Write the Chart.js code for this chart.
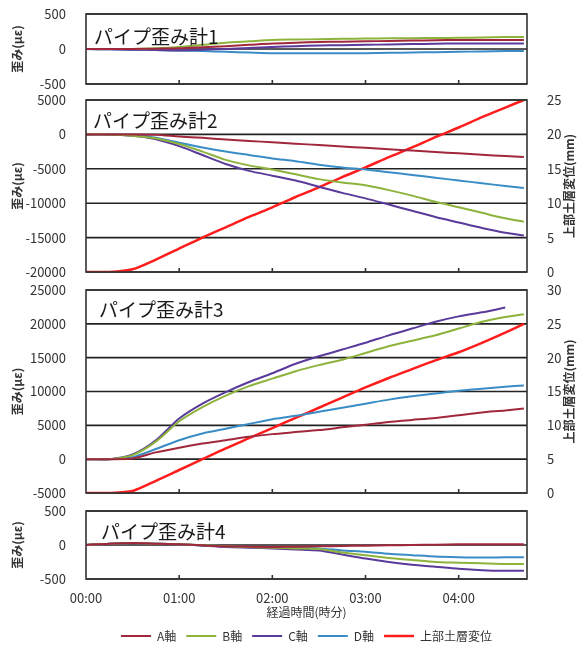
<!DOCTYPE html>
<html>
<head>
<meta charset="utf-8">
<script src="https://cdn.jsdelivr.net/npm/chart.js@4.4.0/dist/chart.umd.min.js"></script>
<style>
  body { margin: 0; background: #fff; overflow: hidden; }
  #wrap { position: relative; width: 588px; height: 649px; overflow: hidden; }
  canvas { position: absolute; left: 0; }
</style>
</head>
<body>
<div id="wrap">
  <canvas id="p1" width="588" height="110" style="top:-6px"></canvas>
  <canvas id="p2" width="588" height="212" style="top:80px"></canvas>
  <canvas id="p3" width="588" height="243" style="top:270px"></canvas>
  <canvas id="p4" width="588" height="161" style="top:491px"></canvas>
</div>
<script>
// elapsed minutes
const times = [0, 15, 30, 45, 60, 75, 90, 105, 120, 135, 150, 165, 180, 195, 210, 225, 240, 255, 270, 282];
const hourTicks = [0, 60, 120, 180, 240];

const seriesNames = ['A軸', 'B軸', 'C軸', 'D軸', '上部土層変位'];
const colors = ['#a1283c', '#8db33c', '#5a3a9a', '#3a8cc6', '#ff1c1c'];

// パイプ歪み計1
const p1A = [0, 0, 0, 5, 10, 25, 40, 60, 80, 90, 100, 105, 110, 115, 120, 125, 130, 130, 130, 130];
const p1B = [0, 0, 0, 10, 30, 60, 90, 110, 130, 135, 140, 145, 150, 152, 155, 158, 160, 165, 170, 170];
const p1C = [0, -5, -10, -15, -20, -10, 0, 15, 30, 40, 50, 55, 60, 65, 70, 75, 80, 80, 80, 80];
const p1D = [0, -5, -10, -15, -20, -30, -40, -50, -60, -60, -60, -60, -60, -55, -50, -45, -40, -35, -30, -30];

// パイプ歪み計2
const p2A = [0, 0, 0, -50, -300, -500, -750, -950, -1150, -1350, -1550, -1750, -1950, -2150, -2350, -2550, -2750, -2950, -3150, -3300];
const p2B = [0, 0, -200, -600, -1400, -2500, -3700, -4500, -5100, -5800, -6500, -7000, -7400, -8100, -8900, -9800, -10600, -11400, -12200, -12700];
const p2C = [0, 0, -200, -700, -1700, -3000, -4300, -5300, -6000, -6700, -7600, -8500, -9300, -10200, -11100, -12000, -12800, -13600, -14300, -14700];
const p2D = [0, 0, -100, -500, -1200, -1900, -2500, -3000, -3500, -3900, -4400, -4800, -5100, -5500, -5900, -6300, -6700, -7100, -7500, -7800];
const p2Disp = [0, 0, 0.4, 1.8, 3.4, 5.0, 6.5, 8.0, 9.4, 10.9, 12.3, 13.8, 15.2, 16.7, 18.1, 19.6, 21.0, 22.5, 23.9, 25.0];

// パイプ歪み計3
const p3A = [0, 0, 100, 1000, 1700, 2300, 2800, 3300, 3700, 4000, 4300, 4700, 5100, 5500, 5800, 6100, 6500, 6900, 7200, 7500];
const p3B = [0, 0, 600, 2600, 5600, 7700, 9400, 10800, 11900, 13000, 13900, 14700, 15700, 16700, 17500, 18300, 19300, 20300, 21000, 21400];
const p3C = [0, 0, 700, 2800, 6000, 8200, 9900, 11400, 12700, 14100, 15200, 16200, 17200, 18300, 19300, 20300, 21100, 21700, 22400, null];
const p3D = [0, 0, 300, 1500, 2800, 3800, 4500, 5200, 5900, 6400, 7000, 7600, 8200, 8800, 9300, 9700, 10100, 10400, 10700, 10900];
const p3Disp = [0, 0, 0.3, 1.8, 3.4, 5.0, 6.6, 8.1, 9.6, 11.1, 12.6, 14.1, 15.6, 17.0, 18.3, 19.6, 20.8, 22.2, 23.7, 25.0];

// パイプ歪み計4
const p4A = [0, 20, 30, 20, 10, -5, -20, -25, -30, -25, -20, -15, -10, -5, 0, 5, 10, 10, 10, 10];
const p4B = [0, 20, 30, 20, 10, -5, -20, -30, -40, -50, -60, -110, -150, -190, -220, -250, -260, -270, -280, -280];
const p4C = [0, 20, 30, 20, 10, -10, -30, -40, -50, -65, -80, -140, -200, -250, -290, -320, -350, -370, -380, -380];
const p4D = [0, 20, 30, 20, 10, -5, -20, -30, -40, -45, -50, -80, -100, -130, -150, -170, -180, -185, -180, -180];

Chart.defaults.font.family = '"Noto Sans CJK JP", "DejaVu Sans", sans-serif';
Chart.defaults.font.size = 11;
Chart.defaults.color = '#333';

const pts = vals => vals.map((v, i) => ({ x: times[i], y: v }));
const hhmm = v => String(Math.floor(v / 60)).padStart(2, '0') + ':' + String(v % 60).padStart(2, '0');

function lineSet(i, vals, axis) {
  return {
    label: seriesNames[i],
    data: pts(vals),
    borderColor: colors[i],
    backgroundColor: colors[i],
    borderWidth: i === 4 ? 2.5 : 2,
    pointRadius: 0,
    tension: 0.25,
    yAxisID: axis || 'y'
  };
}

// box around the plot, grid lines, small hour ticks, panel name and right axis title
const framePlugin = {
  id: 'frame',
  beforeDatasetsDraw(chart) {
    const { ctx, chartArea: a } = chart;
    const ys = chart.scales.y;
    ctx.save();
    ctx.strokeStyle = '#222';
    ctx.lineWidth = 1.6;
    ys.ticks.forEach(t => {
      const py = ys.getPixelForValue(t.value);
      ctx.beginPath();
      ctx.moveTo(a.left, py);
      ctx.lineTo(a.right, py);
      ctx.stroke();
    });
    ctx.restore();
  },
  afterDraw(chart, args, opts) {
    const { ctx, chartArea: a } = chart;
    const xs = chart.scales.x;
    ctx.save();
    ctx.strokeStyle = '#333';
    ctx.lineWidth = 1.6;
    ctx.strokeRect(a.left, a.top, a.right - a.left, a.bottom - a.top);
    hourTicks.slice(1).forEach(t => {
      const px = xs.getPixelForValue(t);
      ctx.beginPath();
      ctx.moveTo(px, a.bottom);
      ctx.lineTo(px, a.bottom - 4);
      ctx.stroke();
    });
    ctx.fillStyle = '#1a1a1a';
    ctx.font = '19px "Noto Sans CJK JP", sans-serif';
    ctx.textBaseline = 'middle';
    ctx.fillText(opts.name, a.left + opts.dx, a.top + opts.dy);
    if (opts.rightTitle) {
      ctx.font = 'bold 12px "Noto Sans CJK JP", sans-serif';
      ctx.textAlign = 'center';
      ctx.translate(569, (a.top + a.bottom) / 2);
      ctx.rotate(-Math.PI / 2);
      ctx.fillStyle = '#333';
      ctx.fillText(opts.rightTitle, 0, 0);
    }
    ctx.restore();
  }
};

function xScale(showLabels) {
  return {
    type: 'linear',
    min: 0,
    max: 284,
    display: showLabels,
    afterBuildTicks: s => { s.ticks = hourTicks.map(v => ({ value: v })); },
    ticks: { callback: v => hhmm(v), padding: 11, maxRotation: 0, font: { size: 13 } },
    grid: { drawOnChartArea: false, drawTicks: false },
    border: { display: false },
    title: { display: showLabels, text: '経過時間(時分)', padding: { top: 0, bottom: 0 }, font: { size: 12 } },
    afterFit: s => { if (showLabels) s.height = 41; }
  };
}

function leftScale(min, max, step) {
  return {
    position: 'left',
    min: min,
    max: max,
    ticks: { stepSize: step, padding: 12, callback: v => v, font: { size: 13 } },
    grid: { display: false },
    border: { display: false },
    title: { display: true, text: '歪み(με)', font: { size: 12, weight: 'bold' }, padding: { top: 10, bottom: 0 } },
    afterFit: s => { s.width = 86; }
  };
}

function rightScale(max) {
  return {
    position: 'right',
    min: 0,
    max: max,
    ticks: { stepSize: 5, padding: 12, callback: v => v, font: { size: 13 } },
    grid: { display: false },
    border: { display: false },
    afterFit: s => { s.width = 61; }
  };
}

function panel(id, datasets, scales, frame, padding, legend) {
  new Chart(document.getElementById(id), {
    type: 'line',
    data: { datasets: datasets },
    options: {
      responsive: false,
      animation: false,
      layout: { padding: padding },
      scales: scales,
      plugins: {
        legend: legend || { display: false },
        tooltip: { enabled: false },
        frame: frame
      }
    },
    plugins: [framePlugin]
  });
}

panel('p1',
  [lineSet(0, p1A), lineSet(1, p1B), lineSet(2, p1C), lineSet(3, p1D)],
  { x: xScale(false), y: leftScale(-500, 500, 500) },
  { name: 'パイプ歪み計1', dx: 8, dy: 23 },
  { top: 20, bottom: 20, left: 0, right: 61 });

panel('p2',
  [lineSet(0, p2A), lineSet(1, p2B), lineSet(2, p2C), lineSet(3, p2D), lineSet(4, p2Disp, 'y2')],
  { x: xScale(false), y: leftScale(-20000, 5000, 5000), y2: rightScale(25) },
  { name: 'パイプ歪み計2', dx: 7, dy: 21, rightTitle: '上部土層変位(mm)' },
  { top: 20, bottom: 20, left: 0, right: 0 });

panel('p3',
  [lineSet(0, p3A), lineSet(1, p3B), lineSet(2, p3C), lineSet(3, p3D), lineSet(4, p3Disp, 'y2')],
  { x: xScale(false), y: leftScale(-5000, 25000, 5000), y2: rightScale(30) },
  { name: 'パイプ歪み計3', dx: 13, dy: 20, rightTitle: '上部土層変位(mm)' },
  { top: 20, bottom: 20, left: 0, right: 0 });

// legend-only entry for the displacement series
panel('p4',
  [lineSet(0, p4A), lineSet(1, p4B), lineSet(2, p4C), lineSet(3, p4D), lineSet(4, [])],
  { x: xScale(true), y: leftScale(-500, 500, 500) },
  { name: 'パイプ歪み計4', dx: 15, dy: 21 },
  { top: 20, bottom: 0, left: 0, right: 61 },
  {
    display: true,
    position: 'bottom',
    fullSize: false,
    labels: { usePointStyle: true, pointStyle: 'line', pointStyleWidth: 30, boxHeight: 12, padding: 10, font: { size: 12 }, color: '#333' }
  });
</script>
</body>
</html>
